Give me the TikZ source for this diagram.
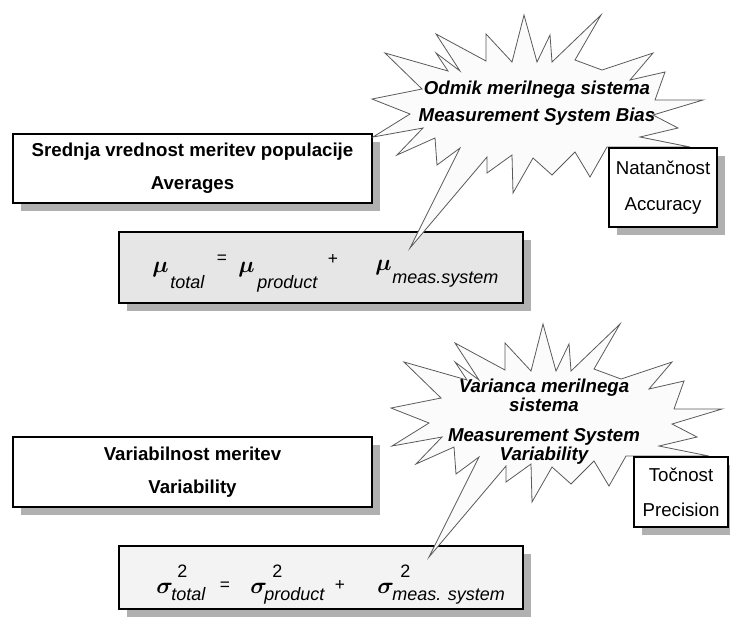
\documentclass[tikz,border=0pt]{standalone}
\usepackage{amsmath}
\usepackage{fontspec}
\setmainfont{Liberation Sans}
\usetikzlibrary{shadows}

\definecolor{shadowgray}{HTML}{B0B0B0}
\definecolor{burstfill}{HTML}{FBFBFB}
\definecolor{burstdraw}{HTML}{5A5A5A}
\definecolor{formulafillA}{HTML}{E6E6E6}
\definecolor{formulafillB}{HTML}{F3F3F3}

\newcommand\labelfont{\fontsize{14}{24.75}\selectfont}
\newcommand\burstfont{\fontsize{14}{14.25}\selectfont\bfseries\itshape}
\newcommand\subfont{\fontsize{13.5}{15}\selectfont\itshape}
\newcommand\opfont{\fontsize{13}{14}\selectfont}
\newcommand\greekfont{\fontsize{18}{20}\selectfont}

\tikzset{
  infobox/.style={draw=black, line width=0.8pt, fill=white, inner sep=0pt,
    align=center, font=\labelfont,
    drop shadow={shadow xshift=6pt, shadow yshift=-6pt, fill=shadowgray, opacity=1}},
  burstline/.style={draw=burstdraw, line width=0.6pt, fill=burstfill, line join=miter},
  bursttext/.style={align=center, font=\burstfont, inner sep=0pt},
  piece/.style={inner sep=0pt, anchor=base west},
  oppiece/.style={inner sep=0pt, anchor=center, font=\opfont},
  starburst/.pic={
    \draw[burstline] (373,137) -- (410,114) -- (372,99) -- (422,89) -- (385,53)
      -- (448,71) -- (436,53) -- (460,71) -- (436,34) -- (486,61) -- (486,34)
      -- (512,62) -- (524,15) -- (537,62) -- (550,35) -- (552,62) -- (601,15)
      -- (575,60) -- (602,70) -- (653,53) -- (630,80) -- (665,72) -- (655,100)
      -- (703,100) -- (653,115) -- (678,128) -- (640,137) -- (690,147)
      -- (607,147) -- (590,177) -- (575,152) -- (552,175) -- (533,158)
      -- (513,193) -- (512,155) -- (487,173) -- (487,157) -- (410,248)
      -- (460,148) -- (437,165) -- (435,138) -- (397,155) -- (423,128) -- cycle;
  }
}

\begin{document}
\begin{tikzpicture}[x=0.75pt, y=-0.75pt]
\useasboundingbox (0,0) rectangle (730,619);

% averages
\node[infobox, font=\labelfont\bfseries, minimum width=269.25pt, minimum height=51.75pt]
  (avg) at (192.5,168.5) {Srednja vrednost meritev populacije\\Averages};
\node[infobox, fill=formulafillA, minimum width=303pt, minimum height=53.25pt]
  (meanbox) at (321,267.5) {};
\pic (biasburst) at (0,0) {starburst};
\node[bursttext] (biastext) at (537,103.5)
  {Odmik merilnega sistema\\[6pt]Measurement System Bias};
\node[infobox, minimum width=81pt, minimum height=59.25pt, font=\fontsize{14}{27}\selectfont]
  (acc) at (663,187.5) {Natančnost\\Accuracy};

\node[piece, font=\greekfont] (mu1) at (152,272) {$\boldsymbol{\mu}$};
\node[piece, font=\subfont] (mutot) at (170,288) {total};
\node[oppiece] (mueq) at (222,259) {=};
\node[piece, font=\greekfont] (mu2) at (238,272) {$\boldsymbol{\mu}$};
\node[piece, font=\subfont] (muprod) at (257,288) {product};
\node[oppiece] (muplus) at (333,259) {+};
\node[piece, font=\greekfont] (mu3) at (375,270) {$\boldsymbol{\mu}$};
\node[piece, font=\subfont] (mumeas) at (392,283) {meas.system};

% variability
\node[infobox, font=\labelfont\bfseries, minimum width=269.25pt, minimum height=52.5pt]
  (var) at (192.5,472) {Variabilnost meritev\\Variability};
\node[infobox, fill=formulafillB, minimum width=303pt, minimum height=47.25pt]
  (sigmabox) at (321,577.5) {};
\pic (varburst) at (19,309) {starburst};
\node[bursttext] (vartext) at (544,421.5)
  {Varianca merilnega\\sistema\\[8pt]Measurement System\\Variability};
\node[infobox, minimum width=70.5pt, minimum height=52.5pt, font=\fontsize{14}{26}\selectfont]
  (prec) at (681,492) {Točnost\\Precision};

\node[piece, font=\greekfont] (sg1) at (156,593) {$\boldsymbol{\sigma}$};
\node[piece, font=\subfont\upshape] (sq1) at (177,577) {2};
\node[piece, font=\subfont] (sgtot) at (171,600) {total};
\node[oppiece] (sgeq) at (225,586) {=};
\node[piece, font=\greekfont] (sg2) at (250,593) {$\boldsymbol{\sigma}$};
\node[piece, font=\subfont\upshape] (sq2) at (272,577) {2};
\node[piece, font=\subfont] (sgprod) at (264,600) {product};
\node[oppiece] (sgplus) at (340,585) {+};
\node[piece, font=\greekfont] (sg3) at (377,593) {$\boldsymbol{\sigma}$};
\node[piece, font=\subfont\upshape] (sq3) at (400,577) {2};
\node[piece, font=\subfont] (sgmeas) at (392,600) {meas. system};
\end{tikzpicture}
\end{document}
